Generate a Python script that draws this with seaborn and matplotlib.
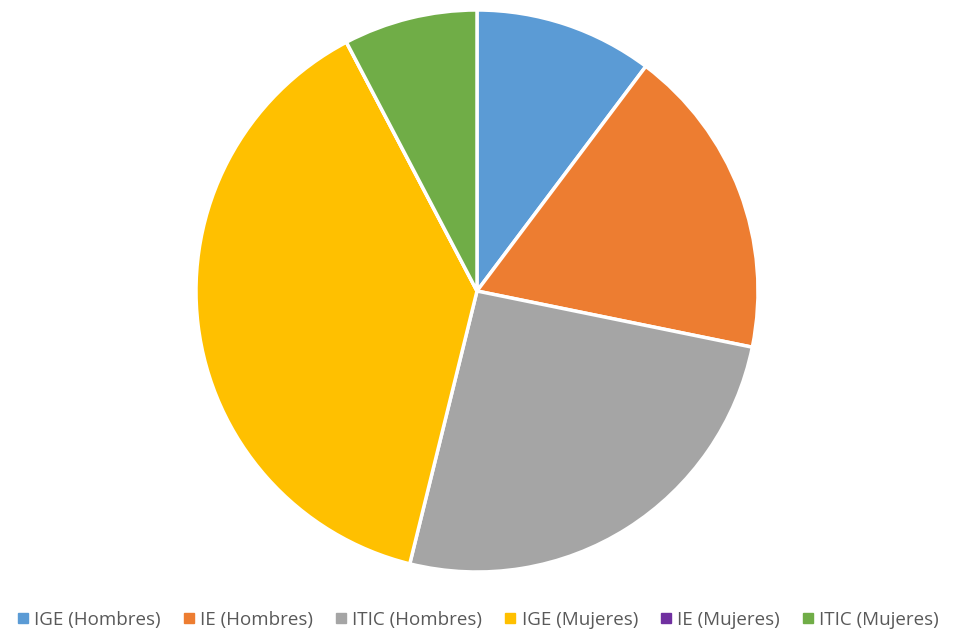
import matplotlib.pyplot as plt
import seaborn as sns
from matplotlib.lines import Line2D

labels = ['IGE (Hombres)', 'IE (Hombres)', 'ITIC (Hombres)',
          'IGE (Mujeres)', 'IE (Mujeres)', 'ITIC (Mujeres)']
counts = [4, 7, 10, 15, 0, 3]
colors = ['#5B9BD5', '#ED7D31', '#A5A5A5', '#FFC000', '#7030A0', '#70AD47']

sns.set_theme(style='white')
plt.rcParams['font.family'] = ['Open Sans', 'DejaVu Sans']

W, H = 956, 632
fig = plt.figure(figsize=(W / 100, H / 100), dpi=100)
cx, cy, r = 477, 291, 281
ax = fig.add_axes([(cx - r) / W, (H - cy - r) / H, 2 * r / W, 2 * r / H])

ax.pie(counts, colors=sns.color_palette(colors), startangle=90, counterclock=False,
       radius=1, wedgeprops={'edgecolor': 'white', 'linewidth': 2.5})
ax.set_xlim(-1, 1)
ax.set_ylim(-1, 1)
ax.set_aspect('equal')
ax.axis('off')

handles = [Line2D([], [], marker='s', linestyle='none', markersize=6.5,
                  markerfacecolor=c, markeredgecolor=c) for c in colors]
fig.legend(handles, labels, loc='center', bbox_to_anchor=(0.5, 1 - 620 / H),
           ncol=6, frameon=False, fontsize=13.5, handlelength=0.6,
           handletextpad=0.3, columnspacing=1.2, labelcolor='#595959')

plt.savefig('out.png', dpi=100)
plt.close()
